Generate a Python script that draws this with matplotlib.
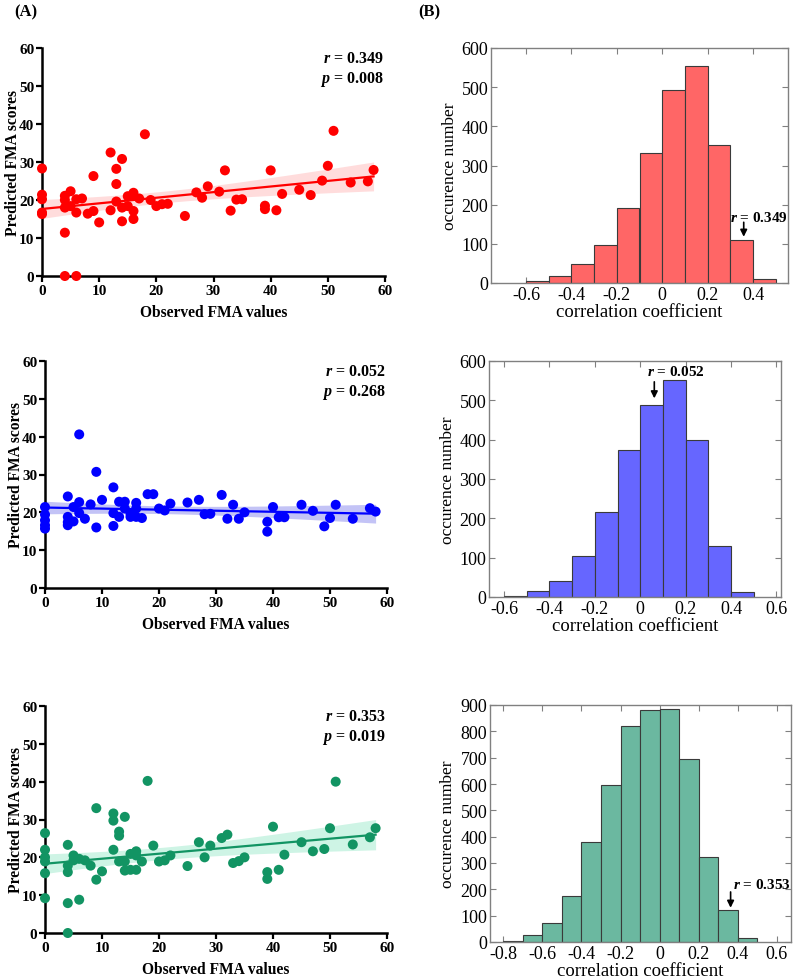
import numpy as np
import matplotlib
matplotlib.use("Agg")
import matplotlib.pyplot as plt
from matplotlib.ticker import FuncFormatter

plt.rcParams['font.family'] = 'Liberation Serif'
plt.rcParams['mathtext.fontset'] = 'custom'
plt.rcParams['mathtext.it'] = 'Liberation Serif:italic:bold'
plt.rcParams['mathtext.rm'] = 'Liberation Serif:bold'

# ---- (A) observed vs predicted FMA ----
obs_1 = [0, 0, 0, 0, 0, 4, 4, 6, 4, 4, 4, 5, 5, 6, 6, 7, 8, 9, 9, 10, 12, 12, 13, 13, 13,
         14, 14, 14, 15, 15, 16, 16, 16, 16, 17, 18, 19, 20, 21, 22, 25, 27, 28, 29, 31,
         32, 33, 34, 35, 39, 39, 40, 41, 42, 45, 47, 49, 50, 51, 54, 57, 58]
pred_1 = [28.3, 21.4, 20.2, 16.7, 16.3, 11.4, 0.0, 0.0, 21.1, 20.0, 18.0, 22.3, 18.4, 20.2,
          16.7, 20.4, 16.4, 17.1, 26.3, 14.1, 32.5, 17.3, 28.2, 24.2, 19.6, 30.8, 18.0, 14.4,
          21.0, 18.4, 21.9, 21.1, 17.1, 15.0, 20.4, 37.3, 20.0, 18.4, 18.9, 19.0, 15.8, 22.0,
          20.6, 23.6, 22.2, 27.8, 17.2, 20.1, 20.2, 18.5, 17.6, 27.8, 17.3, 21.6, 22.7, 21.3,
          25.1, 29.0, 38.2, 24.6, 24.9, 27.9]

obs_2 = [0, 0, 0, 0, 0, 4, 4, 4, 4, 5, 5, 6, 6, 6, 7, 8, 9, 9, 10, 12, 12, 12, 13, 13, 14,
         14, 15, 15, 16, 16, 16, 17, 18, 19, 20, 21, 22, 25, 27, 28, 29, 31, 32, 33, 34, 35,
         39, 39, 40, 41, 42, 45, 47, 49, 50, 51, 54, 57, 58]
pred_2 = [21.4, 19.4, 17.9, 16.6, 15.7, 24.2, 18.8, 17.4, 16.6, 21.4, 17.6, 40.6, 22.7, 19.8,
          18.3, 22.1, 30.7, 16.0, 23.3, 26.6, 19.8, 16.4, 22.8, 18.8, 22.8, 21.0, 19.6, 18.8,
          22.5, 21.0, 18.8, 18.5, 24.8, 24.8, 21.0, 20.5, 22.3, 22.6, 23.3, 19.5, 19.6, 24.6,
          18.3, 22.0, 18.3, 20.0, 17.5, 14.9, 21.4, 18.7, 18.7, 22.0, 20.4, 16.3, 18.5, 22.0,
          18.3, 21.1, 20.2]

obs_3 = [0, 0, 0, 0, 0, 0, 4, 4, 4, 4, 4, 5, 5, 6, 6, 7, 8, 9, 9, 10, 12, 12, 12, 13, 13,
         13, 14, 14, 14, 15, 15, 16, 16, 16, 17, 18, 19, 20, 21, 22, 25, 27, 28, 29, 31, 32,
         33, 34, 35, 39, 39, 40, 41, 42, 45, 47, 49, 50, 51, 54, 57, 58]
pred_3 = [26.4, 22.0, 20.0, 18.9, 15.8, 9.2, 23.3, 17.8, 16.1, 7.9, 0.0, 20.5, 19.2, 19.6,
          8.8, 19.2, 17.8, 33.0, 14.1, 16.3, 31.6, 29.7, 22.0, 26.8, 25.7, 18.9, 30.7, 18.9,
          16.5, 20.9, 16.7, 21.6, 20.5, 16.7, 18.9, 40.2, 23.1, 18.9, 19.2, 20.5, 17.7, 24.0,
          20.0, 23.1, 25.1, 26.0, 18.5, 19.0, 20.0, 16.1, 14.3, 28.1, 16.7, 20.7, 24.0, 21.6,
          22.2, 27.7, 40.0, 23.4, 25.3, 27.7]

r_text = ["0.349", "0.052", "0.353"]
p_text = ["0.008", "0.268", "0.019"]

# ---- (B) permutation histograms ----
edges_1 = [-0.6, -0.5, -0.4, -0.3, -0.2, -0.1, 0.0, 0.1, 0.2, 0.3, 0.4, 0.5]
counts_1 = [4, 17, 48, 97, 191, 331, 492, 554, 353, 111, 9]
edges_2 = [-0.6, -0.5, -0.4, -0.3, -0.2, -0.1, 0.0, 0.1, 0.2, 0.3, 0.4, 0.5]
counts_2 = [2, 16, 41, 103, 216, 374, 489, 551, 398, 130, 13]
edges_3 = [-0.8, -0.7, -0.6, -0.5, -0.4, -0.3, -0.2, -0.1, 0.0, 0.1, 0.2, 0.3, 0.4, 0.5]
counts_3 = [5, 27, 72, 174, 378, 597, 821, 880, 886, 694, 322, 123, 14]
r_obs = [0.349, 0.052, 0.353]

W, H = 793, 979
fig = plt.figure(figsize=(W / 100, H / 100), dpi=100)


def box(l, t, r, b):
    return [l / W, 1 - b / H, (r - l) / W, (b - t) / H]


scatter_boxes = [box(42, 49, 385, 277), box(45, 362, 387, 589), box(45, 707, 387, 934)]
hist_boxes = [box(491, 49, 788, 284), box(489, 362, 781, 598), box(490, 706, 791, 943)]

sc_colors = ['#ff0000', '#0000ff', '#129463']
band_colors = ['#ffb3b3', '#9c9cf0', '#a6ecd0']
band_alpha = [0.45, 0.6, 0.55]
hist_colors = ['#ff6666', '#6666ff', '#6bb8a0']

scatter_data = [(obs_1, pred_1), (obs_2, pred_2), (obs_3, pred_3)]

for i, (xs, ys) in enumerate(scatter_data):
    ax = fig.add_axes(scatter_boxes[i])
    x = np.array(xs, float)
    y = np.array(ys, float)
    # regression + 95% CI
    b1, b0 = np.polyfit(x, y, 1)
    n = len(x)
    resid = y - (b0 + b1 * x)
    s = np.sqrt(np.sum(resid ** 2) / (n - 2))
    xx = np.linspace(x.min(), x.max(), 100)
    yy = b0 + b1 * xx
    se = s * np.sqrt(1 / n + (xx - x.mean()) ** 2 / np.sum((x - x.mean()) ** 2))
    ax.fill_between(xx, yy - 2.0 * se, yy + 2.0 * se, color=band_colors[i],
                    alpha=band_alpha[i], lw=0, zorder=1)
    ax.plot(xx, yy, color=sc_colors[i], lw=1.6, zorder=2)
    ax.scatter(x, y, s=52, color=sc_colors[i], edgecolors='none', zorder=3, clip_on=False)

    ax.set_xlim(0, 60)
    ax.set_ylim(0, 60)
    ax.set_xticks(range(0, 61, 10))
    ax.set_yticks(range(0, 61, 10))
    ax.spines['top'].set_visible(False)
    ax.spines['right'].set_visible(False)
    for sp in ['left', 'bottom']:
        ax.spines[sp].set_linewidth(1.8)
    ax.tick_params(direction='out', length=4, width=1.6, labelsize=11, pad=1.5)
    for lab in ax.get_xticklabels() + ax.get_yticklabels():
        lab.set_fontweight('bold')
    ax.set_ylabel('Predicted FMA scores', fontsize=11.2, fontweight='bold')
    ax.yaxis.set_label_coords(-0.062, 0.5)
    ax.set_xlabel('Observed FMA values', fontsize=11.2, fontweight='bold')
    ax.xaxis.set_label_coords(0.5, -0.125)
    ax.text(0.995, 0.99, r'$r$ = ' + r_text[i] + '\n' + r'$p$ = ' + p_text[i],
            transform=ax.transAxes, ha='right', va='top', fontsize=11.5,
            fontweight='bold', linespacing=1.2)

hist_data = [(edges_1, counts_1), (edges_2, counts_2), (edges_3, counts_3)]
xlims = [(-0.754, 0.554), (-0.666, 0.62), (-0.868, 0.672)]
xticks = [np.arange(-0.6, 0.41, 0.2), np.arange(-0.6, 0.61, 0.2), np.arange(-0.8, 0.61, 0.2)]
ymax = [600, 600, 900]
# text anchor (x, y, align) and arrow (start y, end y)
ann_text = [(0.555, 168, 'right'), (0.158, 575, 'center'), (0.672, 220, 'right')]
ann_arrow = [(155, 118), (547, 505), (190, 130)]


def fmt(v, pos):
    v = round(v, 1)
    if v == 0:
        return '0'
    return ('%.1f' % v)


for i, (edges, counts) in enumerate(hist_data):
    ax = fig.add_axes(hist_boxes[i])
    e = np.array(edges)
    ax.bar(e[:-1], counts, width=np.diff(e), align='edge', color=hist_colors[i],
           edgecolor='#3a3a3a', linewidth=0.8, zorder=2)
    ax.set_xlim(*xlims[i])
    ax.set_ylim(0, ymax[i])
    ax.set_xticks(xticks[i])
    ax.set_yticks(range(0, ymax[i] + 1, 100))
    ax.xaxis.set_major_formatter(FuncFormatter(fmt))
    ax.tick_params(direction='in', length=4, width=0.8, color='#808080',
                   top=True, right=True, labelsize=13, pad=2)
    for sp in ax.spines.values():
        sp.set_color('#808080')
        sp.set_linewidth(1.0)
    ax.set_ylabel('occurence number', fontsize=12.5)
    ax.yaxis.set_label_coords(-0.112, 0.5)
    ax.set_xlabel('correlation coefficient', fontsize=13.5, labelpad=0)
    tx, ty, tha = ann_text[i]
    ax.text(tx, ty, r'$r$ = %.3f' % r_obs[i], ha=tha, va='center', fontsize=11,
            fontweight='bold')
    y0, y1 = ann_arrow[i]
    ax.annotate('', xy=(r_obs[i] + 0.01, y1), xytext=(r_obs[i] + 0.01, y0),
                arrowprops=dict(arrowstyle='-|>', color='black', lw=1.2,
                                mutation_scale=10, shrinkA=0, shrinkB=0))

fig.text(14 / W, 1 - 12 / H, '(A)', fontsize=12, fontweight='bold', va='center')
fig.text(418 / W, 1 - 12 / H, '(B)', fontsize=12, fontweight='bold', va='center')

fig.savefig('out.png', dpi=100)
